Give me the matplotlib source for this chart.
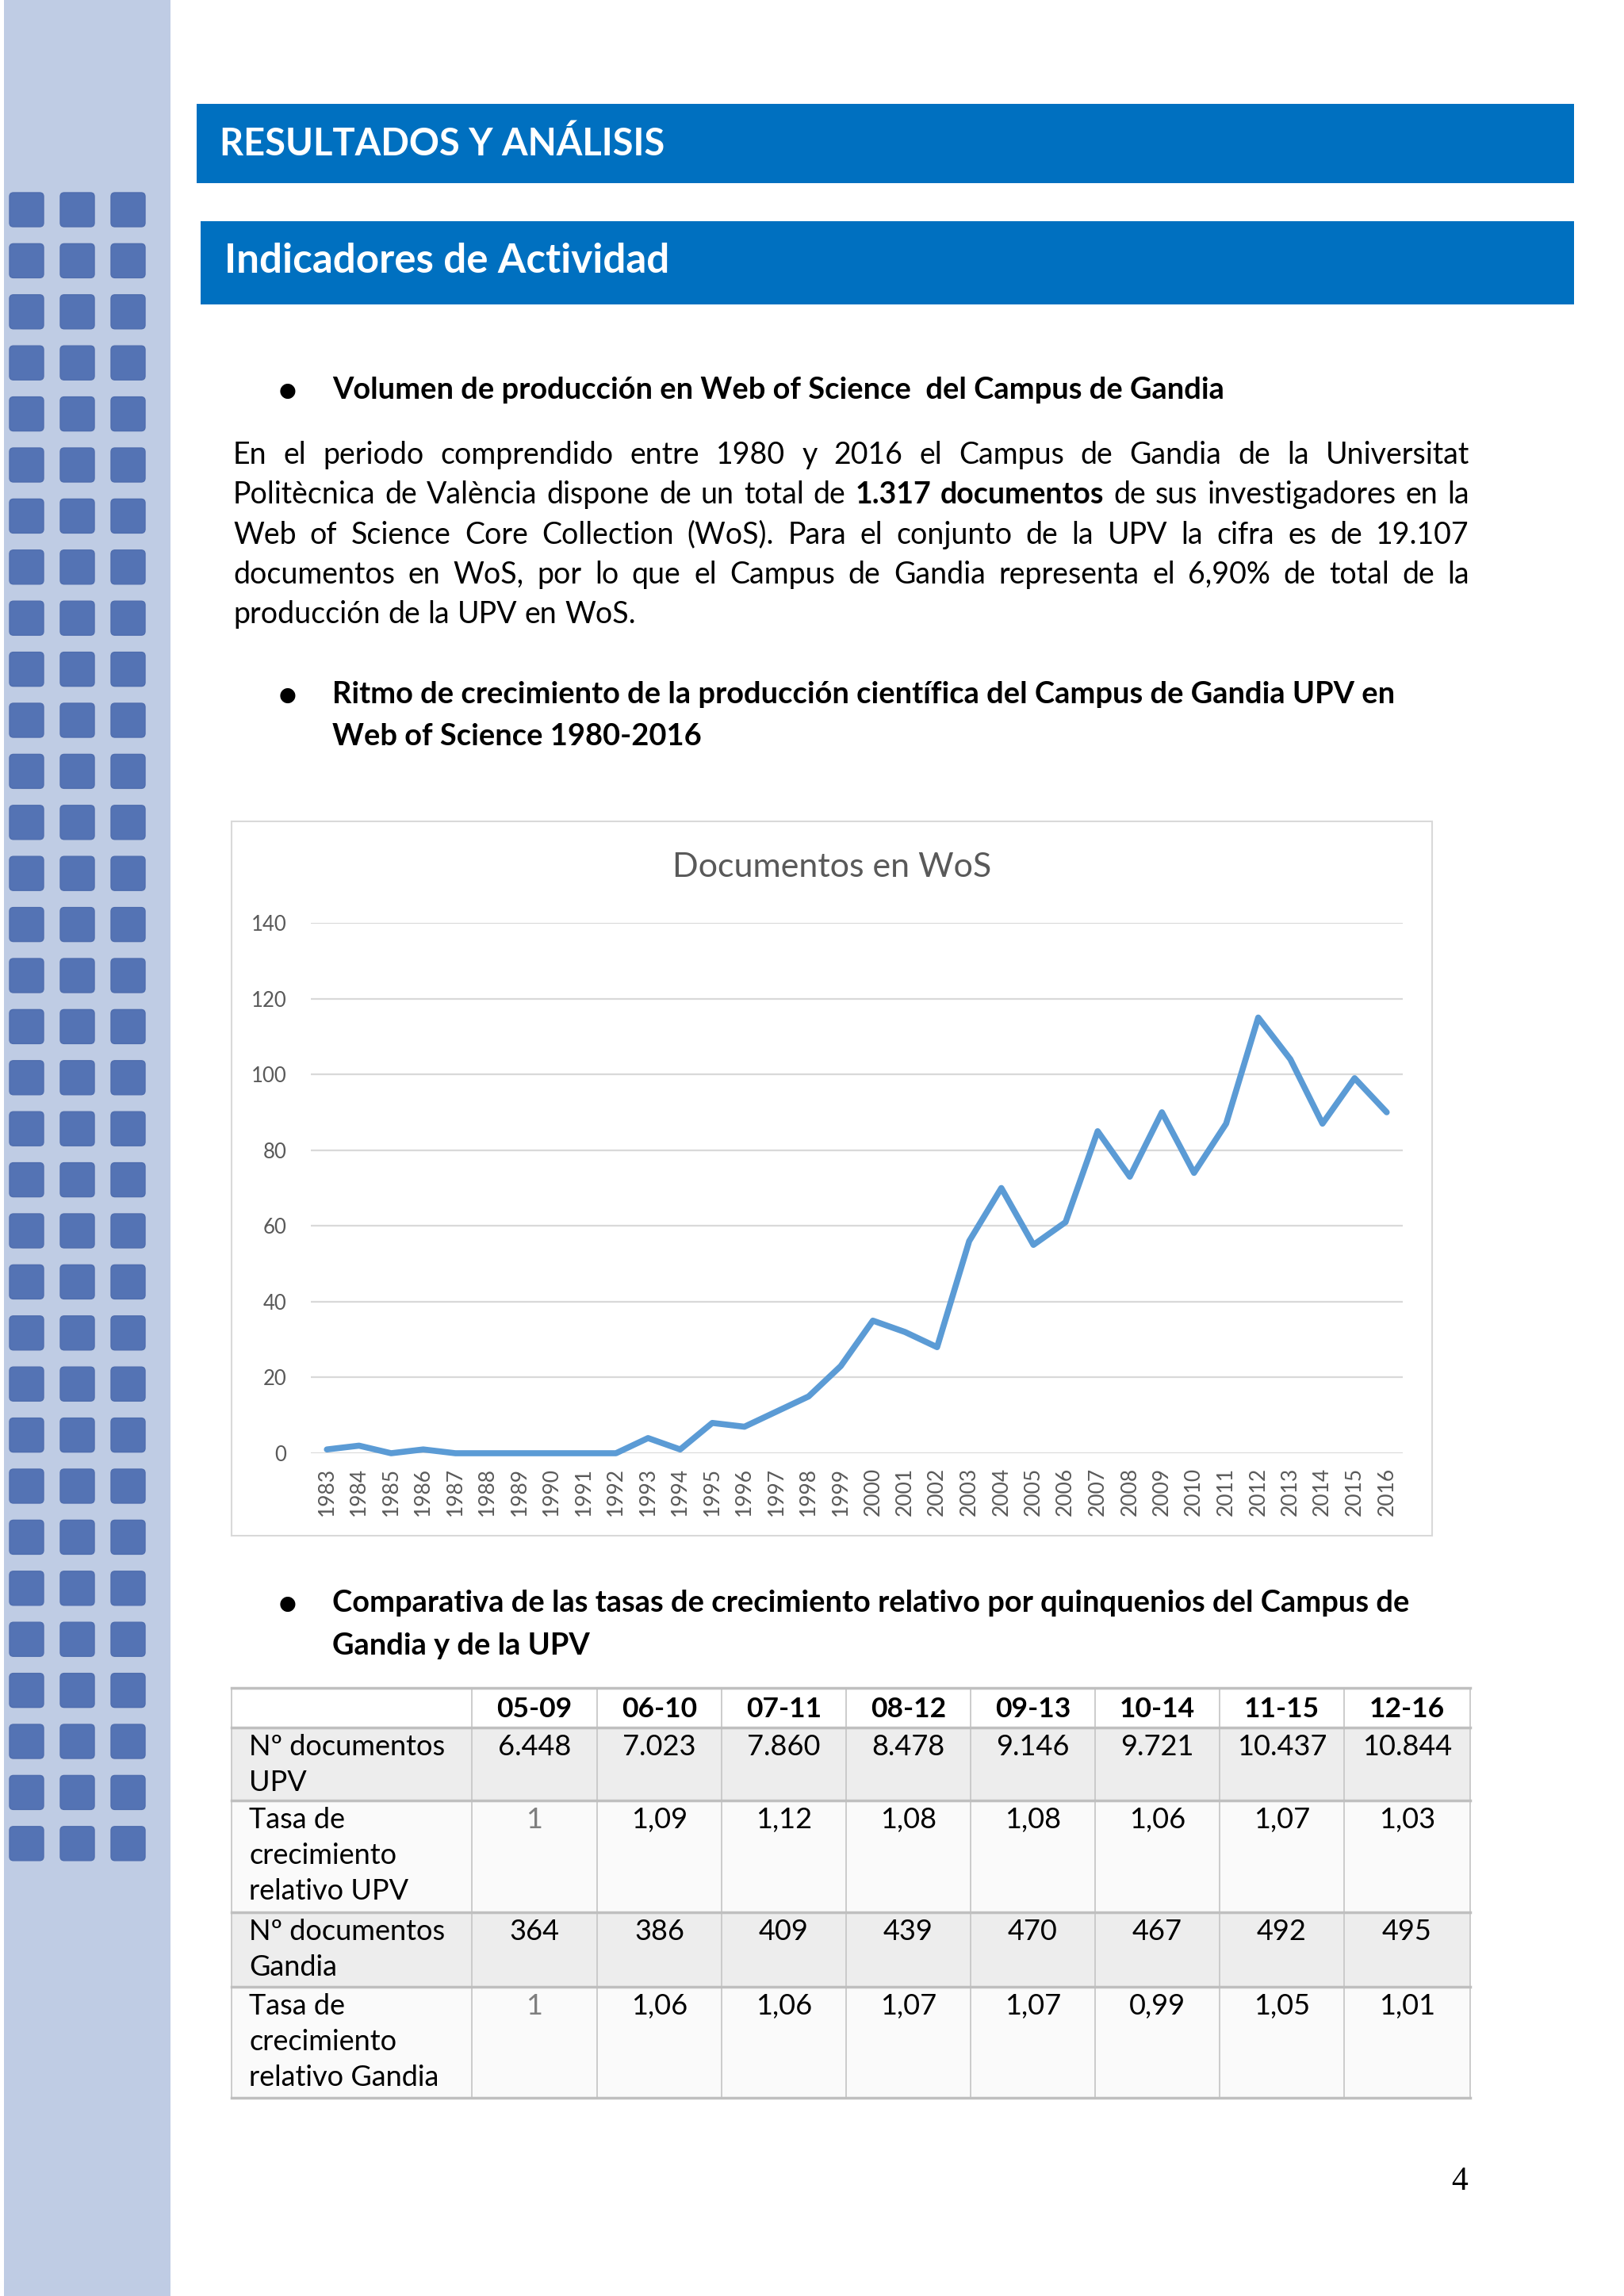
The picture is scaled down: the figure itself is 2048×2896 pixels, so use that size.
import matplotlib
matplotlib.use('Agg')
import matplotlib.pyplot as plt
from matplotlib.patches import Rectangle, FancyBboxPatch

plt.rcParams['font.family'] = ['Lato', 'DejaVu Sans']

# datos del grafico: documentos en WoS por año
years = list(range(1983, 2017))
docs = [1, 2, 0, 1, 0, 0, 0, 0, 0, 0, 4, 1, 8, 7, 11, 15, 23, 35, 32, 28,
        56, 70, 55, 61, 85, 73, 90, 74, 87, 115, 104, 87, 99, 90]

# datos de la tabla por quinquenios
periods = ['05-09', '06-10', '07-11', '08-12', '09-13', '10-14', '11-15', '12-16']
upv_docs = [6448, 7023, 7860, 8478, 9146, 9721, 10437, 10844]
upv_rate = [1, 1.09, 1.12, 1.08, 1.08, 1.06, 1.07, 1.03]
gandia_docs = [364, 386, 409, 439, 470, 467, 492, 495]
gandia_rate = [1, 1.06, 1.06, 1.07, 1.07, 0.99, 1.05, 1.01]
row_labels = [['Nº documentos', 'UPV'],
              ['Tasa de', 'crecimiento', 'relativo UPV'],
              ['Nº documentos', 'Gandia'],
              ['Tasa de', 'crecimiento', 'relativo Gandia']]

paragraph = [
    [('En el periodo comprendido entre 1980 y 2016 el Campus de Gandia de la Universitat', 'normal')],
    [('Politècnica de València dispone de un total de', 'normal'), ('1.317 documentos', 'bold'),
     ('de sus investigadores en la', 'normal')],
    [('Web of Science Core Collection (WoS). Para el conjunto de la UPV la cifra es de 19.107', 'normal')],
    [('documentos en WoS, por lo que el Campus de Gandia representa el 6,90% de total de la', 'normal')],
    [('producción de la UPV en WoS.', 'normal')],
]
bullets = [
    ['Volumen de producción en Web of Science  del Campus de Gandia'],
    ['Ritmo de crecimiento de la producción científica del Campus de Gandia UPV en',
     'Web of Science 1980-2016'],
    ['Comparativa de las tasas de crecimiento relativo por quinquenios del Campus de',
     'Gandia y de la UPV'],
]


def fmt_int(v):
    return f'{v:,}'.replace(',', '.')


def fmt_rate(v):
    return '1' if v == 1 else f'{v:.2f}'.replace('.', ',')


W, H = 2048, 2896
fig = plt.figure(figsize=(W / 100, H / 100), dpi=100)
page = fig.add_axes([0, 0, 1, 1])
page.set_xlim(0, W)
page.set_ylim(H, 0)
page.axis('off')
renderer = fig.canvas.get_renderer()

BODY = 27
BOLD = 27.4
TAB = 26
TAB_B = 25.5

# barra lateral con cuadrados
page.add_patch(Rectangle((5, 0), 210, H, color='#bfcce4', lw=0))
for r in range(33):
    for c in range(3):
        x = 12 + c * 64
        y = 243 + r * 64.4
        page.add_patch(FancyBboxPatch((x + 5, y + 5), 33, 33, boxstyle='round,pad=5',
                                      fc='#5473b4', ec='#4f6dae', lw=1))

# cabeceras azules
page.add_patch(Rectangle((248, 131), 1737, 100, color='#0070c0', lw=0))
page.text(277, 182, 'RESULTADOS Y ANÁLISIS', color='white', fontsize=33.8,
          fontweight='bold', va='center', ha='left')
page.add_patch(Rectangle((253, 279), 1732, 105, color='#0070c0', lw=0))
page.text(283, 330, 'Indicadores de Actividad', color='white', fontsize=36.8,
          fontweight='bold', va='center', ha='left')


def width(s, weight, size):
    t = page.text(0, 0, s, fontsize=size, fontweight=weight)
    w = t.get_window_extent(renderer).width
    t.remove()
    return w


def draw_line(parts, x0, x1, y, size, justify):
    words = []
    for txt, weight in parts:
        words += [(w, weight) for w in txt.split()]
    ws = [width(w, wt, size) for w, wt in words]
    if justify and len(words) > 1:
        gap = (x1 - x0 - sum(ws)) / (len(words) - 1)
    else:
        gap = width('a a', 'normal', size) - 2 * width('a', 'normal', size)
    x = x0
    for (w, wt), wd in zip(words, ws):
        page.text(x, y, w, fontsize=size, fontweight=wt, va='baseline', ha='left', color='black')
        x += wd + gap


# viñetas
bullet_y = [[503], [887, 940], [2033, 2087]]
for lines, ys in zip(bullets, bullet_y):
    page.text(363, ys[0] - 10, '●', fontsize=18, family='DejaVu Sans', ha='center', va='center')
    for ln, y in zip(lines, ys):
        page.text(419, y, ln, fontsize=BOLD, fontweight='bold', va='baseline', ha='left')

# parrafo justificado
for i, parts in enumerate(paragraph):
    draw_line(parts, 294, 1853, 585 + i * 50.3, BODY, i < len(paragraph) - 1)

# recuadro del grafico
page.add_patch(Rectangle((292, 1036), 1514, 901, fill=False, ec='#d9d9d9', lw=1.5))
page.text(1049, 1094, 'Documentos en WoS', color='#595959', fontsize=31,
          ha='center', va='center')

ax = fig.add_axes([392 / W, 1 - 1833 / H, (1769 - 392) / W, (1833 - 1164) / H])
ax.plot(range(len(years)), docs, color='#5b9bd5', lw=5.5, solid_joinstyle='round',
        solid_capstyle='round', clip_on=False, zorder=3)
ax.set_xlim(-0.5, len(years) - 0.5)
ax.set_ylim(0, 140)
ax.set_yticks(range(0, 141, 20))
ax.set_xticks(range(len(years)))
ax.set_xticklabels([str(y) for y in years], rotation=90)
ax.grid(axis='y', color='#d9d9d9', lw=1.6)
ax.set_axisbelow(True)
for s in ax.spines.values():
    s.set_visible(False)
ax.tick_params(axis='y', length=0, pad=22, labelsize=18.5, labelcolor='#595959')
ax.tick_params(axis='x', length=0, pad=13, labelsize=19, labelcolor='#595959')
ax.patch.set_alpha(0)

# tabla
col_x = [292, 595, 753, 910, 1067, 1224, 1381, 1538, 1695, 1854]
row_y = [2129, 2179, 2271, 2412, 2506, 2646]
fills = ['white', '#ededed', '#fafafa', '#ededed', '#fafafa']
for i in range(5):
    page.add_patch(Rectangle((col_x[0], row_y[i]), col_x[-1] - col_x[0], row_y[i + 1] - row_y[i],
                             fc=fills[i], lw=0))
for x in col_x:
    page.plot([x, x], [row_y[0], row_y[-1]], color='#c8c8c8', lw=1.3)
for y in row_y:
    page.plot([col_x[0], col_x[-1]], [y, y], color='#bfbfbf', lw=2.5)

for j, p in enumerate(periods):
    cx = (col_x[j + 1] + col_x[j + 2]) / 2
    page.text(cx, row_y[0] + 37, p, fontsize=TAB_B, fontweight='bold', ha='center', va='baseline')

rows = [[fmt_int(v) for v in upv_docs], [fmt_rate(v) for v in upv_rate],
        [fmt_int(v) for v in gandia_docs], [fmt_rate(v) for v in gandia_rate]]
for i, (lab, vals) in enumerate(zip(row_labels, rows)):
    top = row_y[i + 1]
    for k, ln in enumerate(lab):
        page.text(314, top + 35 + k * 45, ln, fontsize=TAB, ha='left', va='baseline')
    for j, v in enumerate(vals):
        cx = (col_x[j + 1] + col_x[j + 2]) / 2
        col = '#7f7f7f' if (i % 2 == 1 and j == 0) else 'black'
        page.text(cx, top + 35, v, fontsize=TAB, ha='center', va='baseline', color=col)

# numero de pagina
page.text(1841, 2752, '4', fontsize=30, family='Liberation Serif', ha='center', va='center')

fig.savefig('out.png', dpi=100, facecolor='white')
